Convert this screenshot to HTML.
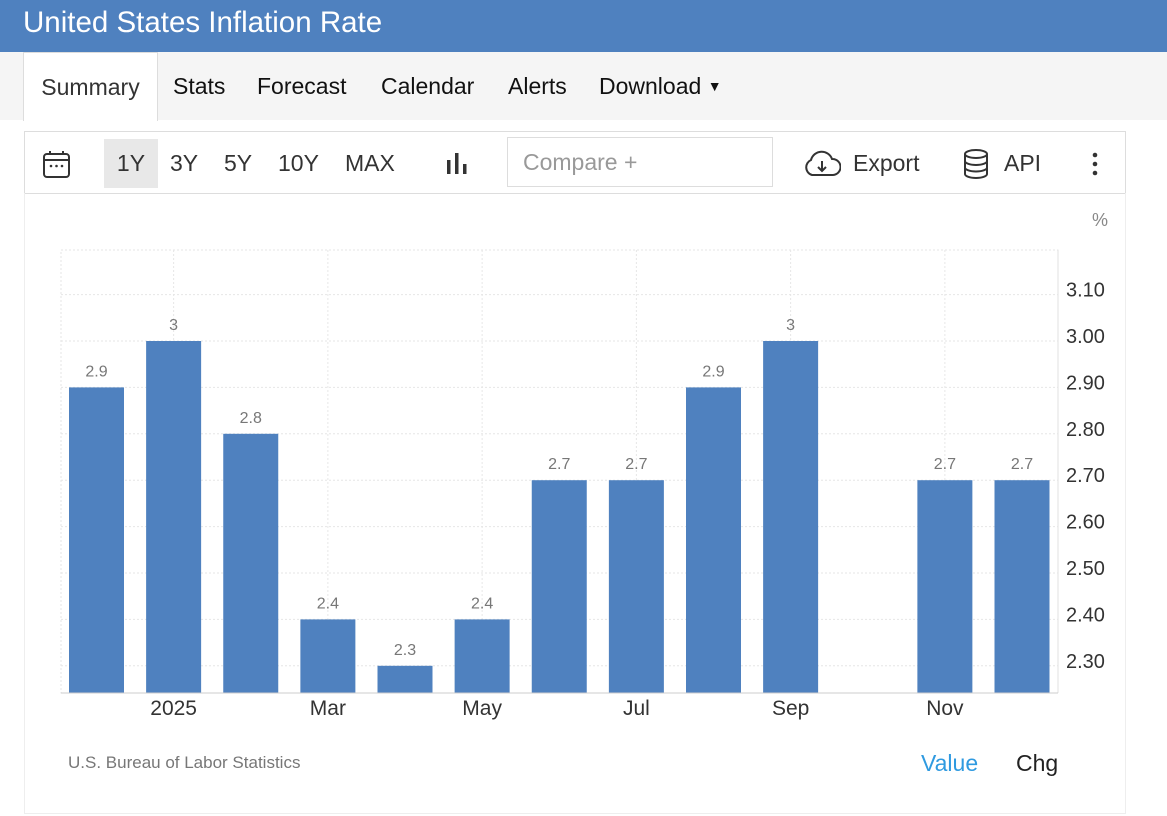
<!DOCTYPE html>
<html><head><meta charset="utf-8"><style>
body{margin:0;width:1167px;height:816px;background:#fff;font-family:"Liberation Sans",Arial,sans-serif;position:relative;overflow:hidden}
.abs{position:absolute}
#hdr{left:0;top:0;width:1167px;height:52px;background:#4f81bf;color:#fff;font-size:29.5px;line-height:46px}
#tabs{left:0;top:52px;width:1167px;height:68px;background:#f5f5f5}
.tab{position:absolute;top:0;height:68px;line-height:68px;font-size:23px;color:#111}
#tb{left:24px;top:131px;width:1100px;height:61px;border:1px solid #ddd;background:#fff}
.t{position:absolute;top:0;line-height:62px;font-size:23px;color:#333}
#chartbox{left:24px;top:193px;width:1100px;height:620px;border:1px solid #eee;border-top:none}
</style></head><body>
<div id="hdr" class="abs"><span style="margin-left:23px">United States Inflation Rate</span></div>
<div id="tabs" class="abs">
<div class="tab" style="left:23px;width:133px;background:#fff;border:1px solid #ddd;border-bottom:none;text-align:center;color:#333">Summary</div>
<div class="tab" style="left:173px">Stats</div>
<div class="tab" style="left:257px">Forecast</div>
<div class="tab" style="left:381px">Calendar</div>
<div class="tab" style="left:508px">Alerts</div>
<div class="tab" style="left:599px">Download <span style="font-size:14px;position:relative;top:-3px">&#9660;</span></div>
</div>
<div id="tb" class="abs">
<svg class="abs" style="left:17px;top:18px" width="30" height="30"><rect x="2" y="4" width="25" height="23" rx="3" fill="none" stroke="#333" stroke-width="2"/><line x1="2" y1="10" x2="27" y2="10" stroke="#333" stroke-width="2"/><line x1="8" y1="1" x2="8" y2="5" stroke="#333" stroke-width="2"/><line x1="21" y1="1" x2="21" y2="5" stroke="#333" stroke-width="2"/><circle cx="9" cy="16" r="1.3" fill="#333"/><circle cx="14.5" cy="16" r="1.3" fill="#333"/><circle cx="20" cy="16" r="1.3" fill="#333"/></svg>
<div class="t" style="left:79px;top:7px;width:54px;height:49px;line-height:49px;background:#e8e8e8;text-align:center">1Y</div>
<div class="t" style="left:145px">3Y</div>
<div class="t" style="left:199px">5Y</div>
<div class="t" style="left:253px">10Y</div>
<div class="t" style="left:320px">MAX</div>
<svg class="abs" style="left:420px;top:20px" width="26" height="24"><rect x="2" y="8" width="3.5" height="14" fill="#333"/><rect x="10" y="1" width="3.5" height="21" fill="#333"/><rect x="18" y="12" width="3.5" height="10" fill="#333"/></svg>
<div class="abs" style="left:482px;top:5px;width:266px;height:50px;border:1px solid #ddd;line-height:49px;font-size:23px;color:#999;padding-left:15px;box-sizing:border-box">Compare +</div>
<svg class="abs" style="left:778px;top:18px" width="38" height="28"><path d="M9 25 A8 8 0 0 1 8 10 A11 11 0 0 1 29 9 A8 8 0 0 1 30 25 Z" fill="none" stroke="#333" stroke-width="2"/><line x1="19" y1="11" x2="19" y2="21" stroke="#333" stroke-width="2"/><path d="M15 17 L19 21 L23 17" fill="none" stroke="#333" stroke-width="2"/></svg>
<div class="t" style="left:828px">Export</div>
<svg class="abs" style="left:937px;top:17px" width="28" height="30"><ellipse cx="14" cy="5" rx="11" ry="4" fill="none" stroke="#333" stroke-width="2"/><path d="M3 5 V25 A11 4 0 0 0 25 25 V5 M3 12 A11 4 0 0 0 25 12 M3 18.5 A11 4 0 0 0 25 18.5" fill="none" stroke="#333" stroke-width="2"/></svg>
<div class="t" style="left:979px">API</div>
<svg class="abs" style="left:1065px;top:20px" width="10" height="24"><circle cx="5" cy="3" r="2.3" fill="#333"/><circle cx="5" cy="12" r="2.3" fill="#333"/><circle cx="5" cy="21" r="2.3" fill="#333"/></svg>
</div>
<div id="chartbox" class="abs"></div>
<svg id="chart" class="abs" style="left:0;top:0" width="1167" height="816"></svg>
<div class="abs" style="left:68px;top:753px;font-size:17px;color:#777">U.S. Bureau of Labor Statistics</div>
<div class="abs" style="left:921px;top:750px;font-size:23px;color:#2f9ae0">Value</div>
<div class="abs" style="left:1016px;top:750px;font-size:23px;color:#222">Chg</div>
<script>
const categories=["Dec","Jan","Feb","Mar","Apr","May","Jun","Jul","Aug","Sep","Oct","Nov","Dec"];
const values=[2.9,3.0,2.8,2.4,2.3,2.4,2.7,2.7,2.9,3.0,null,2.7,2.7];
const yTicks=[2.3,2.4,2.5,2.6,2.7,2.8,2.9,3.0,3.1];
const xLabels=[[1,"2025"],[3,"Mar"],[5,"May"],[7,"Jul"],[9,"Sep"],[11,"Nov"]];
const NS="http://www.w3.org/2000/svg",svg=document.getElementById('chart');
const x0=96.5,step=(1022-96.5)/12,bw=55,plotL=61,plotR=1058,plotT=250,base=693;
const xs=i=>x0+i*step, ys=v=>341+(3.0-v)*464;
function mk(t,a,txt){const e=document.createElementNS(NS,t);for(const k in a)e.setAttribute(k,a[k]);if(txt!=null)e.textContent=txt;svg.appendChild(e);return e;}
let e=mk('rect',{x:plotL,y:plotT,width:plotR-plotL,height:base-plotT,fill:'none',stroke:'#e6e6e6','stroke-dasharray':'2,2'});

let re=mk('line',{x1:plotR,x2:plotR,y1:plotT,y2:base,stroke:'#e0e0e0'});

yTicks.forEach(v=>{const y=ys(v);
 let g=mk('line',{x1:plotL,x2:plotR,y1:y,y2:y,stroke:'#e6e6e6','stroke-dasharray':'2,2'});
 
 let t=mk('text',{x:1066,y:y+2,'font-size':20,fill:'#333','font-family':'Liberation Sans'},v.toFixed(2));
 });
xLabels.forEach(([i,l])=>{const x=xs(i);
 let g=mk('line',{x1:x,x2:x,y1:plotT,y2:base,stroke:'#e6e6e6','stroke-dasharray':'2,2'});
 
 let t=mk('text',{x:x,y:715,'font-size':21,fill:'#333','text-anchor':'middle','font-family':'Liberation Sans'},l);
 });
values.forEach((v,i)=>{if(v==null)return;const x=xs(i),y=ys(v);
 let r=mk('rect',{x:x-bw/2,y:y,width:bw,height:base-y,fill:'#4f81bf'});
 
 let t=mk('text',{x:x,y:y-11,'font-size':16,fill:'#777','text-anchor':'middle','font-family':'Liberation Sans'},String(v));
 });
let bl=mk('line',{x1:plotL,x2:plotR,y1:base,y2:base,stroke:'#ccc'});

let u=mk('text',{x:1108,y:226,'font-size':18,fill:'#888','text-anchor':'end','font-family':'Liberation Sans'},'%');

</script>
</body></html>
